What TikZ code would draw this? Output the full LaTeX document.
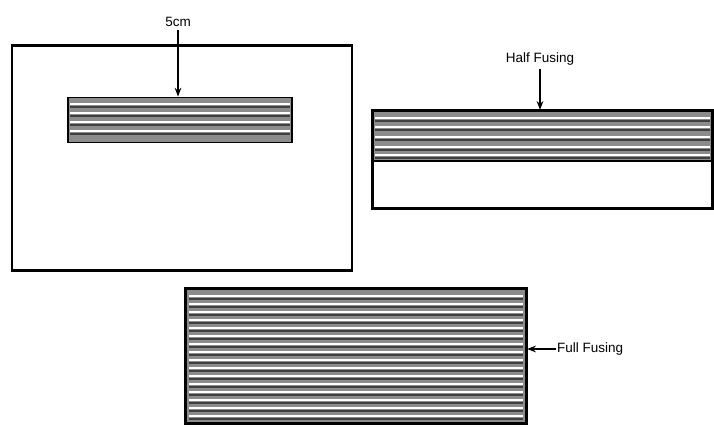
\documentclass[tikz,border=0pt]{standalone}
\usepackage{fontspec}
\setmainfont{Liberation Sans}
\usetikzlibrary{arrows.meta,positioning}

\begin{document}
\begin{tikzpicture}[x=1pt, y=-1pt, font=\fontsize{13.5}{15}\selectfont, >=Stealth,
    box/.style={draw, line width=2.2pt, fill=white, inner sep=0pt},
    layer/.style={draw, line width=1.8pt, fill=black!45, inner sep=0pt},
    seam/.style={white, line width=1.3pt},
    shade/.style={black!75, line width=1.6pt},
    arr/.style={->, line width=1.3pt}]

  \useasboundingbox (0,0) rectangle (714,427);

  %% Plate with a 5cm fused strip
  \node[box, minimum width=340pt, minimum height=225pt] (plate) at (182,158) {};
  \node[layer, minimum width=224pt, minimum height=45pt] (strip) at (180,120) {};
  \foreach \y in {104,113,122,131} {
    \draw[seam] (70,\y) -- (290,\y);
    \draw[shade] (70,\y+3) -- (290,\y+3);
  }
  \node (cmlab) at (178,22) {5cm};
  \draw[arr] (cmlab) -- (strip.north -| cmlab);

  %% Half fusing
  \node[box, minimum width=339pt, minimum height=97pt] (half) at (542.5,159.5) {};
  \node[layer, minimum width=339pt, minimum height=50pt, anchor=north] (halfly) at (half.north) {};
  \foreach \y in {118,127,137,147,155} {
    \draw[seam] (375,\y) -- (710,\y);
    \draw[shade] (375,\y+3) -- (710,\y+3);
  }
  \draw[line width=2.2pt] (half.north west) rectangle (half.south east);
  \node (hlab) at (540,59) {Half Fusing};
  \draw[arr] (hlab) -- (half.north -| hlab);

  %% Full fusing
  \node[layer, line width=2.2pt, minimum width=340pt, minimum height=134pt] (full) at (356,356) {};
  \foreach \y in {296,304,...,416} {
    \draw[seam] (189,\y) -- (523,\y);
    \draw[shade] (189,\y+3) -- (523,\y+3);
  }
  \draw[line width=2.2pt] (full.north west) rectangle (full.south east);
  \node[anchor=west, inner sep=1pt] (flab) at (556,349) {Full Fusing};
  \draw[arr] (flab) -- (flab.west -| full.east);
\end{tikzpicture}
\end{document}
